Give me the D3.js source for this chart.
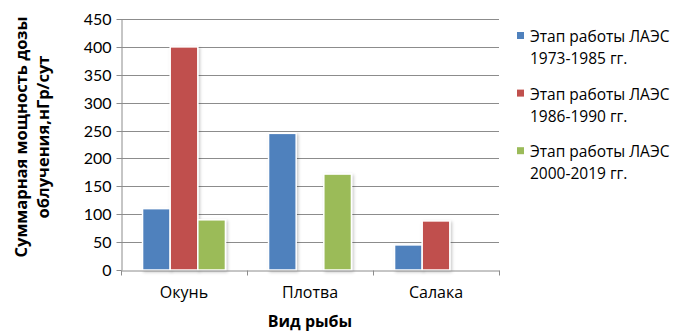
<!DOCTYPE html>
<html>
<head>
<meta charset="utf-8">
<script src="https://cdn.jsdelivr.net/npm/d3@7"></script>
<style>
  body { margin: 0; background: #fff; }
  svg text { font-family: "Open Sans", sans-serif; fill: #000; }
  svg .num text { font-family: Lato, "Open Sans", sans-serif; }
</style>
</head>
<body>
<svg id="chart" width="675" height="333"></svg>
<script>
// categories and series
const categories = ["Окунь", "Плотва", "Салака"];
const seriesNames = [
    ["Этап работы ЛАЭС", "1973-1985 гг."],
    ["Этап работы ЛАЭС", "1986-1990 гг."],
    ["Этап работы ЛАЭС", "2000-2019 гг."]
];
const series1973 = [110, 245, 45];
const series1986 = [400, null, 88];
const series2000 = [90, 172, null];
const yTicks = [0, 50, 100, 150, 200, 250, 300, 350, 400, 450];
const colors = ["#4F81BD", "#C0504D", "#9BBB59"];

const allSeries = [series1973, series1986, series2000];

const svg = d3.select("#chart");
const plot = { left: 121, right: 499, top: 19, bottom: 270 };

// soft shadow under the bars
const defs = svg.append("defs");
const shadow = defs.append("filter").attr("id", "shadow")
    .attr("x", "-30%").attr("y", "-10%").attr("width", "160%").attr("height", "130%");
shadow.append("feDropShadow")
    .attr("dx", 1.5).attr("dy", 1.5).attr("stdDeviation", 1.5)
    .attr("flood-color", "#000").attr("flood-opacity", 0.22);

const x = d3.scaleBand().domain(categories).range([plot.left, plot.right]).paddingInner(0).paddingOuter(0);
const xInner = d3.scaleBand().domain(d3.range(allSeries.length))
    .range([0, x.bandwidth()]).paddingInner(0).paddingOuter(0.78);
const y = d3.scaleLinear().domain([0, 450]).range([plot.bottom, plot.top]);

// gridlines
svg.append("g")
    .selectAll("line")
    .data(yTicks.filter(d => d > 0))
    .join("line")
    .attr("x1", plot.left).attr("x2", plot.right)
    .attr("y1", d => Math.round(y(d)) + 0.5).attr("y2", d => Math.round(y(d)) + 0.5)
    .attr("stroke", "#8c8c8c").attr("stroke-width", 1);

// y axis
const yAxis = svg.append("g")
    .attr("class", "num")
    .attr("transform", "translate(" + (plot.left + 0.5) + ",0)")
    .call(d3.axisLeft(y).tickValues(yTicks).tickSize(5).tickPadding(5).tickSizeOuter(0));
yAxis.select(".domain").attr("stroke", "#8c8c8c");
yAxis.selectAll(".tick line").attr("stroke", "#8c8c8c");
yAxis.selectAll(".tick text").style("font-size", "16px");
yAxis.selectAll(".tick").attr("transform", d => "translate(0," + (Math.round(y(d)) + 0.5) + ")");

// bars
const groups = svg.append("g")
    .selectAll("g")
    .data(allSeries)
    .join("g")
    .attr("fill", (d, i) => colors[i]);

groups.each(function(values, si) {
    d3.select(this).selectAll("rect")
        .data(values.map((v, ci) => ({ v: v, c: categories[ci] })).filter(d => d.v !== null))
        .join("rect")
        .attr("x", d => x(d.c) + xInner(si))
        .attr("y", d => y(d.v))
        .attr("width", xInner.bandwidth())
        .attr("height", d => y(0) - y(d.v))
        .attr("stroke", "#fff")
        .attr("stroke-width", 1.5)
        .attr("filter", "url(#shadow)");
});

// x axis
const xAxis = svg.append("g")
    .attr("transform", "translate(0," + (plot.bottom + 0.5) + ")")
    .call(d3.axisBottom(x).tickSize(0).tickPadding(16));
xAxis.select(".domain").attr("stroke", "#8c8c8c");
xAxis.selectAll(".tick text").style("font-size", "16px");
xAxis.selectAll(".sep")
    .data(categories.concat(["end"]))
    .join("line")
    .attr("class", "sep")
    .attr("x1", (d, i) => Math.round(plot.left + i * x.bandwidth()) + 0.5)
    .attr("x2", (d, i) => Math.round(plot.left + i * x.bandwidth()) + 0.5)
    .attr("y1", 0).attr("y2", 5)
    .attr("stroke", "#8c8c8c");

// axis titles
svg.append("text")
    .attr("x", (plot.left + plot.right) / 2)
    .attr("y", 327)
    .attr("text-anchor", "middle")
    .style("font-size", "16px")
    .style("font-weight", "bold")
    .text("Вид рыбы");

const yTitle = svg.append("text")
    .attr("transform", "translate(27,137) rotate(-90)")
    .attr("text-anchor", "middle")
    .style("font-size", "16.5px")
    .style("font-weight", "bold");
yTitle.append("tspan").attr("x", 0).attr("dy", 0).text("Суммарная мощность дозы");
yTitle.append("tspan").attr("x", 0).attr("dy", 22).text("облучения,нГр/сут");

// legend
const legend = svg.append("g")
    .selectAll("g")
    .data(seriesNames)
    .join("g")
    .attr("transform", (d, i) => "translate(517," + (42 + i * 57.6) + ")");
legend.append("rect")
    .attr("x", 0).attr("y", -10).attr("width", 7).attr("height", 7)
    .attr("fill", (d, i) => colors[i]);
legend.append("text")
    .style("font-size", "15.5px")
    .selectAll("tspan")
    .data(d => d)
    .join("tspan")
    .attr("x", 13)
    .attr("y", (d, i) => i * 22)
    .text(d => d);
</script>
</body>
</html>
